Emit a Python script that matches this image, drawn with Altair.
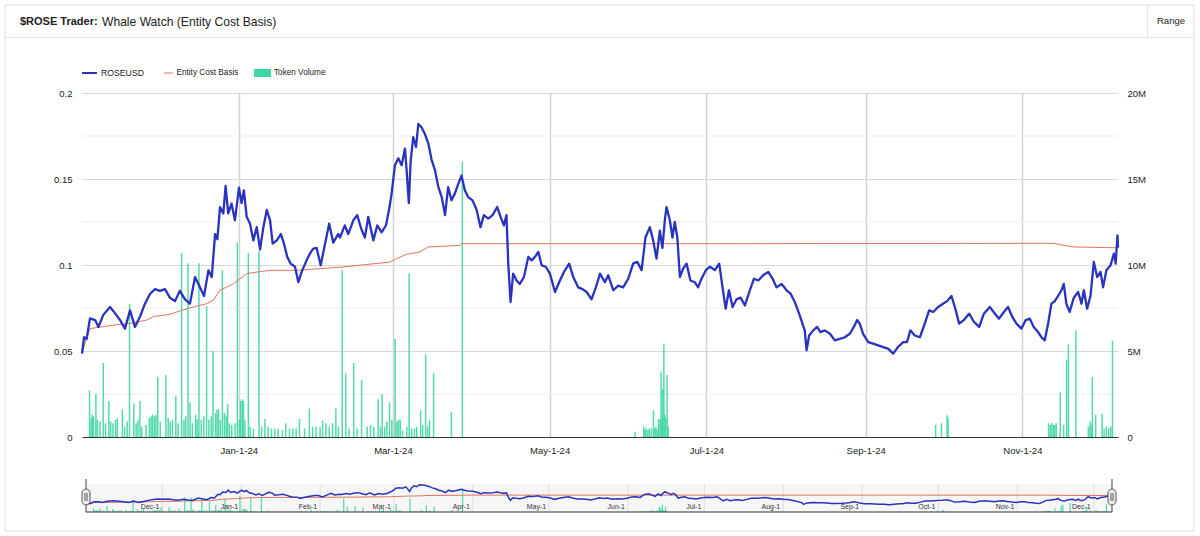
import altair as alt
import pandas as pd

START = pd.Timestamp("2023-11-01")

# ROSEUSD price (days since 2023-11-01, USD)
price_day = [0, 0.8, 1.8, 3.1, 5.1, 6.4, 8.3, 10.9, 12.8, 14.8, 16.7, 18.7, 20.6, 22.6, 24.5, 26.5, 28.4, 30.4, 32.3, 34.2,
             36.2, 38.1, 40.1, 42.0, 44.0, 45.9, 47.5, 49.2, 50.5, 51.8, 52.7, 53.7, 55.0, 55.9, 56.9, 58.2, 59.5, 61.1, 62.1, 63.0,
             64.1, 65.4, 66.7, 68.0, 69.3, 70.6, 71.9, 73.2, 74.2, 75.8, 77.4, 78.6, 79.9, 81.2, 82.9, 84.2, 85.5, 87.4, 88.7, 90.0,
             91.3, 92.9, 94.6, 96.2, 97.8, 99.7,
             100.4, 102.3, 103.6, 105.6, 107.1, 108.8, 110.1, 111.4, 113.4, 114.9, 116.6, 118.3, 119.6, 120.5, 121.8, 123.1, 124.4,
             125.7, 126.3, 127.2, 127.9, 128.9, 130.0, 130.9, 132.2, 133.5, 134.8, 136.1, 137.4, 138.7, 140.0, 141.3, 142.5, 143.8,
             145.1, 146.4, 147.7, 149.0, 150.3, 152.0, 153.6, 155.1, 156.4, 158.1, 159.8, 161.6, 162.9, 164.2, 165.2, 165.9, 166.8,
             167.8, 169.1, 170.4, 172.0, 173.7, 175.0, 176.3, 177.6, 178.9, 180.5, 182.1, 184.1, 186.0, 187.6, 189.6, 191.2, 193.1,
             194.8, 196.4, 198.3, 200.0,
             201.6, 203.5, 204.8, 206.8, 208.7, 210.6, 212.6, 214.5, 216.1, 217.8, 219.3, 221.0, 222.3, 223.6, 224.9, 225.9, 226.9,
             227.5, 228.8, 229.8, 230.7, 231.7, 232.7, 234.0, 235.3, 236.8, 238.5, 239.8, 241.1, 242.8, 244.4, 246.3, 248.0, 249.3,
             250.5, 251.8, 253.2, 254.7, 256.3, 258.0, 259.7, 261.5, 263.2, 265.1, 267.1, 268.8, 270.3, 272.3, 274.2, 275.8, 277.4,
             279.1, 280.4, 281.3, 282.0, 283.0, 284.6, 286.1, 287.4, 289.1, 291.1, 293.0, 294.9, 296.9, 298.8, 300.4, 301.7,
             302.7, 304.0, 306.0, 307.9, 309.9, 311.8, 313.7, 315.7, 317.6, 319.6, 321.1, 322.4, 324.1, 326.1, 328.0, 329.7, 331.3,
             333.2, 335.1, 336.7, 338.4, 339.7, 341.4, 343.2, 345.3, 347.1, 349.2, 351.0, 353.3, 355.3, 356.9, 358.8, 360.4, 362.1,
             363.7, 365.6, 367.3, 368.9, 370.4, 372.1, 373.4, 374.7, 376.0, 377.3, 378.6, 379.9, 381.2, 382.1, 383.1, 384.4, 386.0,
             387.7, 389.0, 389.9, 391.2, 392.5, 393.8, 395.1, 396.4, 397.4, 398.7, 400.3, 401.6, 402.3, 403.0, 403.2]
price_val = [0.0485, 0.058, 0.057, 0.069, 0.068, 0.064, 0.071, 0.0756, 0.072, 0.068, 0.063, 0.0736, 0.064, 0.070, 0.0775, 0.0833, 0.086, 0.085, 0.086, 0.081,
             0.079, 0.085, 0.080, 0.0775, 0.093, 0.087, 0.082, 0.0969, 0.093, 0.118, 0.115, 0.1337, 0.130, 0.146, 0.130, 0.1357, 0.126, 0.145, 0.136, 0.1434,
             0.128, 0.124, 0.1143, 0.122, 0.109, 0.122, 0.132, 0.126, 0.1124, 0.1143, 0.118, 0.1124, 0.1047, 0.1008, 0.099, 0.090, 0.096, 0.1027, 0.1066, 0.1095,
             0.110, 0.0998, 0.1124, 0.124, 0.113, 0.118,
             0.116, 0.123, 0.118, 0.126, 0.129, 0.1205, 0.116, 0.128, 0.1143, 0.123, 0.119, 0.123, 0.133, 0.1415, 0.158, 0.162, 0.158,
             0.1677, 0.156, 0.136, 0.160, 0.1744, 0.1686, 0.182, 0.180, 0.176, 0.1705, 0.161, 0.155, 0.1453, 0.1395, 0.129, 0.1453, 0.1376,
             0.1415, 0.147, 0.152, 0.1434, 0.1395, 0.1376, 0.132, 0.122, 0.129, 0.127, 0.129, 0.1337, 0.128, 0.123, 0.129, 0.1008, 0.0785,
             0.095, 0.091, 0.089, 0.093, 0.1047, 0.1027, 0.1047, 0.1076, 0.0998, 0.099, 0.095, 0.0843, 0.091, 0.096, 0.1008, 0.093, 0.087,
             0.086, 0.0843, 0.080, 0.087,
             0.095, 0.090, 0.094, 0.0853, 0.088, 0.087, 0.092, 0.1008, 0.1018, 0.097, 0.116, 0.122, 0.1143, 0.1037, 0.120, 0.110, 0.127,
             0.1337, 0.126, 0.116, 0.125, 0.116, 0.093, 0.098, 0.1008, 0.091, 0.090, 0.087, 0.092, 0.097, 0.099, 0.097, 0.1008, 0.087,
             0.0746, 0.0853, 0.0756, 0.080, 0.081, 0.0765, 0.0843, 0.092, 0.091, 0.094, 0.096, 0.092, 0.087, 0.089, 0.0853, 0.0833, 0.0785,
             0.0717, 0.0659, 0.062, 0.0504, 0.059, 0.062, 0.064, 0.061, 0.062, 0.060, 0.0562, 0.057, 0.058, 0.060, 0.064, 0.068,
             0.0659, 0.060, 0.0552, 0.0543, 0.0533, 0.0523, 0.0514, 0.0485, 0.0523, 0.0552, 0.0552, 0.062, 0.059, 0.058, 0.0659, 0.0736, 0.0727,
             0.0756, 0.0775, 0.079, 0.082, 0.0756, 0.0659, 0.068, 0.0717, 0.067, 0.064, 0.0717, 0.0756, 0.0717, 0.0688, 0.0727, 0.0756, 0.0698,
             0.0659, 0.063, 0.068, 0.0688, 0.064, 0.061, 0.058, 0.0562, 0.0659, 0.0775, 0.079, 0.082, 0.0853, 0.089, 0.0775, 0.0727, 0.081,
             0.0843, 0.0775, 0.0853, 0.0746, 0.082, 0.1018, 0.093, 0.096, 0.087, 0.097, 0.0998, 0.1066, 0.1008, 0.1172, 0.110]

# Entity cost basis
cost_day = [0, 1.5, 3.1, 12.0, 18.7, 25.2, 27.8, 34.2, 38.1, 43.3, 48.5, 51.1, 53.7, 56.3, 58.9, 61.5, 64.1, 68.0, 73.2,
            83.5, 101.2, 119.8, 122.4, 126.3, 131.5, 134.8, 147.1, 147.7, 250.0, 378.0, 386.0, 403.2]
cost_val = [0.049, 0.056, 0.063, 0.065, 0.066, 0.068, 0.070, 0.0713, 0.0733, 0.0756, 0.0775, 0.0795, 0.0853, 0.0872, 0.0891,
            0.092, 0.095, 0.0959, 0.0969, 0.0969, 0.0988, 0.1017, 0.1037, 0.1062, 0.1076, 0.1105, 0.1114, 0.1124, 0.1124,
            0.1126, 0.1105, 0.110]

# Token volume (days since 2023-11-01, millions of tokens)
vol_day = [1.0, 1.6, 2.1, 2.6, 3.5, 4.1, 5.1, 6.4, 7.3, 8.6, 9.3, 10.2, 11.2, 11.9, 13.9, 14.8, 15.8, 16.7, 18.4, 19.3,
           20.0, 20.8, 21.5, 23.2, 24.5, 25.2, 25.8, 26.5, 27.1, 27.8, 28.8, 31.0, 31.9, 32.7, 33.6, 34.9, 35.8, 37.2, 38.1,
           38.8, 39.7, 40.5, 41.4, 42.7, 43.3, 44.0, 44.9, 45.9, 47.0, 47.9, 48.8, 49.5, 50.5, 51.1, 51.7, 52.4, 53.2, 54.0,
           54.7, 55.3, 56.0, 56.9, 58.2, 59.1, 59.9, 60.4, 61.0, 61.5, 62.1, 63.4, 64.1, 65.4, 67.6, 68.6, 69.9, 71.2, 72.5,
           73.8, 75.1, 76.8, 78.1, 79.6, 80.9, 82.2, 83.5, 85.5, 87.4, 88.7, 90.0, 91.6, 92.6, 93.9, 95.2, 96.5, 97.8, 98.8,
           100.3, 101.7, 103.0, 104.8, 106.2, 107.9, 110.1, 111.4, 112.7, 114.4, 115.3, 116.0, 117.0, 117.9, 118.9, 119.8,
           121.1, 121.8, 122.4, 123.1, 124.0, 125.7, 126.6, 127.6, 128.7, 129.6, 131.1, 131.9, 133.1, 133.9, 134.6, 136.2,
           143.2, 147.5,
           215.4, 218.8, 219.3, 219.7, 220.4, 221.0, 221.8, 222.6, 223.1, 223.6, 224.1, 224.6, 225.2, 225.6, 226.0, 226.2,
           226.7, 227.1, 227.5, 228.0, 228.4,
           333.5, 335.8, 338.0, 338.4, 377.9, 378.6, 379.2, 379.9, 380.3, 380.9, 382.5, 383.8, 385.0, 385.7, 388.6, 393.5,
           394.2, 394.6, 395.1, 396.4, 398.9, 399.7, 400.6, 401.5, 402.3, 403.0]
vol_m = [2.7, 1.1, 1.3, 1.2, 2.5, 1.0, 0.9, 4.3, 0.8, 2.1, 0.9, 0.8, 1.0, 1.1, 1.6, 0.6, 0.9, 7.75, 1.95, 0.8,
         1.0, 2.1, 0.6, 0.7, 1.1, 1.2, 1.3, 1.2, 1.3, 3.5, 0.9, 3.6, 1.1, 0.9, 1.0, 2.4, 0.8, 10.7, 1.0,
         1.2, 10.1, 2.0, 0.8, 1.3, 1.0, 10.1, 1.0, 1.2, 7.6, 1.0, 1.2, 5.0, 1.4, 1.6, 1.6, 1.0, 9.7, 1.4,
         1.2, 1.9, 0.8, 0.7, 0.8, 11.3, 1.0, 2.1, 2.2, 2.1, 1.0, 10.7, 0.6, 0.5, 10.8, 0.6, 1.05, 0.6, 0.5,
         0.5, 0.5, 0.4, 0.8, 0.5, 0.5, 0.5, 1.05, 0.5, 1.65, 0.6, 0.6, 0.6, 0.95, 0.8, 0.6, 0.8, 1.65, 0.6,
         9.7, 3.7, 0.5, 4.3, 0.5, 3.3, 0.6, 0.7, 0.6, 2.2, 0.6, 2.5, 0.6, 0.9, 2.0, 1.0,
         5.7, 0.9, 1.0, 1.0, 0.4, 0.6, 9.5, 0.5, 0.5, 0.6, 1.55, 0.7, 4.8, 0.6, 1.0, 3.7,
         1.45, 16.0,
         0.3, 0.6, 0.4, 0.5, 0.4, 0.5, 0.5, 1.55, 0.5, 0.6, 0.4, 1.05, 1.0, 3.8, 1.1, 2.8,
         5.4, 1.3, 1.1, 3.6, 0.6,
         0.7, 0.8, 1.26, 1.07, 0.8, 0.7, 0.8, 0.7, 0.7, 0.8, 2.6, 0.7, 4.5, 5.4, 6.2, 0.6,
         0.9, 0.7, 3.5, 1.3, 1.35, 0.5, 0.6, 0.5, 0.6, 5.6]

price_ticks = [0, 0.05, 0.1, 0.15, 0.2]
price_minor = [0.025, 0.075, 0.125, 0.175]
vol_ticks = [0, 5e6, 10e6, 15e6, 20e6]
nav_months = ["2023-12-01", "2024-01-01", "2024-02-01", "2024-03-01", "2024-04-01", "2024-05-01", "2024-06-01",
              "2024-07-01", "2024-08-01", "2024-09-01", "2024-10-01", "2024-11-01", "2024-12-01"]

BLUE = "#2a33bd"
RED = "#e2735e"
GREEN = "#3fd6a2"
FONT = "Liberation Sans"

price_df = pd.DataFrame({"date": (START + pd.to_timedelta(price_day, unit="D")).strftime("%Y-%m-%dT%H:%M:%S"),
                         "price": price_val})
cost_df = pd.DataFrame({"date": (START + pd.to_timedelta(cost_day, unit="D")).strftime("%Y-%m-%dT%H:%M:%S"),
                        "cost": cost_val})
vol_df = pd.DataFrame({"date": (START + pd.to_timedelta(vol_day, unit="D")).strftime("%Y-%m-%dT%H:%M:%S"),
                       "vol": [v * 1e6 for v in vol_m]})
minor_df = pd.DataFrame({"v": price_minor})
nav_df = pd.DataFrame({"date": [m + "T00:00:00" for m in nav_months]})
one = pd.DataFrame({"a": [0]})

W, H = 1036, 344
dom = [alt.DateTime(year=2023, month=11, date=1), alt.DateTime(year=2024, month=12, date=8, hours=5)]
xs = alt.Scale(domain=dom)
ys = alt.Scale(domain=[0, 0.2])
vs = alt.Scale(domain=[0, 20e6])
NAV_L, NAV_R, NAV_T, NAV_B = 4, 1030, 391, 419
nxs = alt.Scale(domain=dom, range=[NAV_L, NAV_R])
nys = alt.Scale(domain=[0, 0.2], range=[NAV_B, NAV_T - 2])
nvs = alt.Scale(domain=[0, 20e6], range=[NAV_B, NAV_T])


def val(**kw):
    return {k: alt.value(v) for k, v in kw.items()}


frame = alt.Chart(one).mark_rect(filled=False, stroke="#dddddd", strokeWidth=1).encode(
    **val(x=-77, x2=1112, y=-88, y2=438))
header = alt.Chart(one).mark_rule(color="#e4e4e4", strokeWidth=1).encode(**val(x=-77, x2=1112, y=-55.5))
sep = alt.Chart(one).mark_rule(color="#e4e4e4", strokeWidth=1).encode(**val(x=1065.5, y=-88, y2=-55.5))
title1 = alt.Chart(one).mark_text(text="$ROSE Trader:", font=FONT, fontSize=11, fontWeight="bold", align="left",
                                  baseline="middle", color="#222222").encode(**val(x=-62, y=-71.5))
title2 = alt.Chart(one).mark_text(text="Whale Watch (Entity Cost Basis)", font=FONT, fontSize=12.1, align="left",
                                  baseline="middle", color="#222222").encode(**val(x=20, y=-71.5))
rng = alt.Chart(one).mark_text(text="Range", font=FONT, fontSize=9.5, align="center", baseline="middle",
                               color="#222222").encode(**val(x=1089, y=-72))

leg_blue = alt.Chart(one).mark_rule(color=BLUE, strokeWidth=2).encode(**val(x=0, x2=15, y=-20))
leg_t1 = alt.Chart(one).mark_text(text="ROSEUSD", font=FONT, fontSize=8.7, align="left", baseline="middle",
                                  color="#222222").encode(**val(x=19, y=-20))
leg_red = alt.Chart(one).mark_rule(color=RED, strokeWidth=1).encode(**val(x=82, x2=91, y=-20))
leg_t2 = alt.Chart(one).mark_text(text="Entity Cost Basis", font=FONT, fontSize=8.2, align="left", baseline="middle",
                                  color="#222222").encode(**val(x=94.5, y=-20))
leg_green = alt.Chart(one).mark_rect(color=GREEN).encode(**val(x=172, x2=189, y=-24, y2=-16))
leg_t3 = alt.Chart(one).mark_text(text="Token Volume", font=FONT, fontSize=8.2, align="left", baseline="middle",
                                  color="#222222").encode(**val(x=192, y=-20))

minor = alt.Chart(minor_df).mark_rule(color="#efefef", strokeWidth=1).encode(
    y=alt.Y("v:Q", scale=ys, axis=None), x=alt.value(0), x2=alt.value(W))

bars = alt.Chart(vol_df).mark_bar(color=GREEN, width=1.5, opacity=0.9).encode(
    x=alt.X("date:T", scale=xs, axis=None),
    y=alt.Y("vol:Q", scale=vs, axis=alt.Axis(orient="right", values=vol_ticks, grid=False, domain=False, ticks=False,
                                              tickSize=0, labelPadding=9, title=None, labelFont=FONT, labelFontSize=9.5,
                                              labelColor="#222222",
                                              labelExpr="datum.value == 0 ? '0' : (datum.value / 1000000) + 'M'")))

cost = alt.Chart(cost_df).mark_line(color=RED, strokeWidth=1).encode(
    x=alt.X("date:T", scale=xs, axis=None), y=alt.Y("cost:Q", scale=ys, axis=None))

price = alt.Chart(price_df).mark_line(color=BLUE, strokeWidth=2.3, strokeJoin="round").encode(
    x=alt.X("date:T", scale=xs, axis=alt.Axis(
        values=[alt.DateTime(year=2024, month=m, date=1) for m in [1, 3, 5, 7, 9, 11]],
        format="%b-%-d-%y", grid=True, gridColor="#d2d2d2", gridWidth=1.5, domain=True, domainColor="#333333",
        domainWidth=1, ticks=False, tickSize=0, labelPadding=8, title=None, labelFont=FONT, labelFontSize=9.5,
        labelColor="#222222")),
    y=alt.Y("price:Q", scale=ys, axis=alt.Axis(
        values=price_ticks, format=".2~f", grid=True, gridColor="#d8d8d8", gridWidth=1.2, domain=False, ticks=False,
        tickSize=0, labelPadding=10, title=None, labelFont=FONT, labelFontSize=9.5, labelColor="#222222")))

# navigator
nav_bg = alt.Chart(one).mark_rect(color="#f6f6f6").encode(**val(x=NAV_L, x2=NAV_R, y=NAV_T, y2=NAV_B))
nav_grid = alt.Chart(nav_df).mark_rule(color="#dedede", strokeWidth=1).encode(
    x=alt.X("date:T", scale=nxs, axis=None), y=alt.value(NAV_T), y2=alt.value(NAV_B))
nav_lbl = alt.Chart(nav_df).mark_text(font=FONT, fontSize=7, align="right", baseline="middle", dx=-3,
                                      color="#333333").encode(
    x=alt.X("date:T", scale=nxs, axis=None), y=alt.value(NAV_B - 5),
    text=alt.Text("date:T", format="%b-%-d"))
nav_bars = alt.Chart(vol_df).mark_bar(color=GREEN, width=1.2, opacity=0.9).encode(
    x=alt.X("date:T", scale=nxs, axis=None), y=alt.Y("vol:Q", scale=nvs, axis=None))
nav_cost = alt.Chart(cost_df).mark_line(color=RED, strokeWidth=1).encode(
    x=alt.X("date:T", scale=nxs, axis=None), y=alt.Y("cost:Q", scale=nys, axis=None))
nav_price = alt.Chart(price_df).mark_line(color=BLUE, strokeWidth=1.5).encode(
    x=alt.X("date:T", scale=nxs, axis=None), y=alt.Y("price:Q", scale=nys, axis=None))
nav_base = alt.Chart(one).mark_rule(color="#333333", strokeWidth=1).encode(**val(x=NAV_L, x2=NAV_R, y=NAV_B))
hl_line = alt.Chart(one).mark_rule(color="#444444", strokeWidth=1).encode(**val(x=NAV_L, y=NAV_T - 5, y2=NAV_B))
hr_line = alt.Chart(one).mark_rule(color="#444444", strokeWidth=1).encode(**val(x=NAV_R, y=NAV_T - 5, y2=NAV_B))
hl = alt.Chart(one).mark_rect(fill="#eeeeee", stroke="#555555", strokeWidth=1, cornerRadius=4).encode(
    **val(x=NAV_L - 4, x2=NAV_L + 4, y=396, y2=412))
hr = alt.Chart(one).mark_rect(fill="#eeeeee", stroke="#555555", strokeWidth=1, cornerRadius=4).encode(
    **val(x=NAV_R - 4, x2=NAV_R + 4, y=396, y2=412))
hl_g = alt.Chart(one).mark_rule(color="#555555", strokeWidth=1).encode(**val(x=NAV_L - 1, y=400, y2=408))
hl_g2 = alt.Chart(one).mark_rule(color="#555555", strokeWidth=1).encode(**val(x=NAV_L + 1, y=400, y2=408))
hr_g = alt.Chart(one).mark_rule(color="#555555", strokeWidth=1).encode(**val(x=NAV_R - 1, y=400, y2=408))
hr_g2 = alt.Chart(one).mark_rule(color="#555555", strokeWidth=1).encode(**val(x=NAV_R + 1, y=400, y2=408))

chart = alt.layer(
    frame, header, sep, title1, title2, rng, leg_blue, leg_t1, leg_red, leg_t2, leg_green, leg_t3,
    minor, bars, cost, price,
    nav_bg, nav_grid, nav_bars, nav_cost, nav_price, nav_lbl, nav_base,
    hl_line, hr_line, hl, hr, hl_g, hl_g2, hr_g, hr_g2
).resolve_scale(x="independent", y="independent").properties(
    width=W, height=H, padding={"left": 82, "top": 93, "right": 82, "bottom": 99},
    autosize=alt.AutoSizeParams(type="none"), background="white"
).configure_view(stroke=None)

chart.save("out.html", embed_options={"renderer": "svg", "actions": False})
